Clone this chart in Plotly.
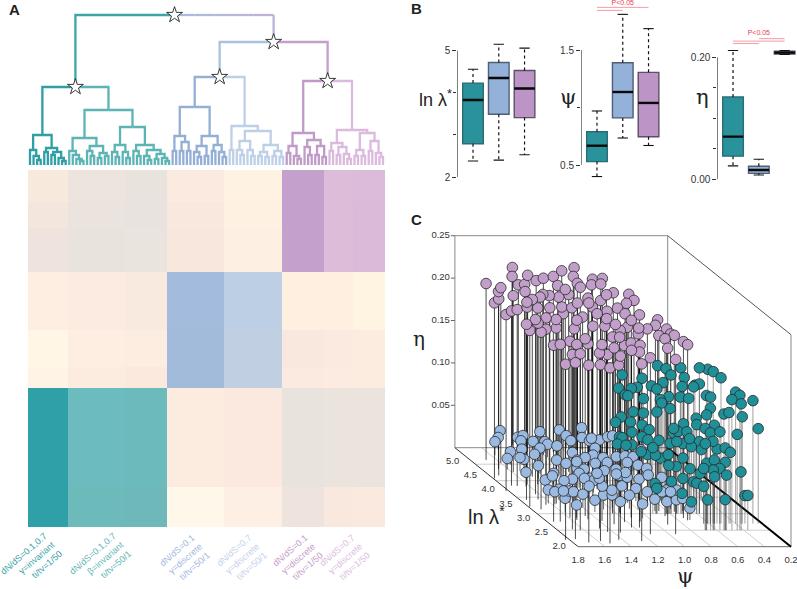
import plotly.graph_objects as go

W, H = 797, 589

# ---------- Panel A data ----------
heat_x_edges = [28, 68, 125, 167, 224, 282, 324, 353, 385]
heat_y_edges = [170, 202, 228, 272, 330, 367, 388, 487, 527]
heat_colors = [
    ["#f8e9dd", "#ece4dd", "#e9e3dd", "#fbeadf", "#fef2e3", "#c3a1cc", "#dcbcd9", "#dbbbd9"],
    ["#f3e6dc", "#ebe4de", "#e8e3de", "#f9e8de", "#fef1e2", "#c3a1cc", "#dcbcd9", "#dabad9"],
    ["#efe4dd", "#e9e3de", "#e9e4de", "#f8e7dd", "#fdf0e2", "#c3a1cc", "#dcbcd9", "#dabad8"],
    ["#fdeee1", "#fbebe0", "#f9eadf", "#a3bbdc", "#bccfe5", "#feefe0", "#feefe0", "#fff3e2"],
    ["#fff6e6", "#fdeee1", "#fcede0", "#a3bbdb", "#c0cfe1", "#f9e8de", "#faeadf", "#fcecdf"],
    ["#fef3e4", "#fcebdf", "#fbe9de", "#a3bbdb", "#c0cfe1", "#faeadf", "#fbebe0", "#fcecdf"],
    ["#30a0a8", "#6cbbbe", "#6dbabd", "#fcebdf", "#fbe8de", "#e9e3de", "#ebe4dd", "#ede3de"],
    ["#30a0a8", "#6dbabb", "#6fb8b9", "#fff8ea", "#fdefe3", "#efe3dd", "#f8e8de", "#f9e9df"],
]
clade_teal_a = (30, (15, 0, (9, 0, (5, 0, 0))),
                (17, (13, 0, 0), (13, (10, 0, 0), (7, 0, (4, 0, 0)))))
clade_teal_b1 = (27, (14, 0, (10, 0, (6, 0, (4, 0, 0)))),
                 (19, (14, 0, (9, 0, 0)), (12, (7, 0, 0), (9, 0, 0))))
clade_teal_b2a = (20, (13, 0, (8, 0, 0)), (13, 0, (7, 0, 0)))
clade_teal_b2b = (20, (14, 0, (9, 0, 0)),
                  (15, (9, 0, (5, 0, 0)), (11, (6, 0, 0), (7, 0, (4, 0, 0)))))
clade_blue_a1 = (29, (14, 0, 0), (23, (14, 0, 0), (14, 0, 0)))
clade_blue_a2 = (29, (19, (13, 0, (8, 0, 0)), (9, 0, 0)), (20, (14, 0, 0), (13, 0, (8, 0, 0))))
clade_blue_b = (39, (15, 0, 0), (34, (24, (15, 0, (10, 0, 0)), (15, 0, (9, 0, 0))),
                                 (20, (13, (9, 0, 0), (8, 0, 0)), (14, (9, 0, 0), (8, 0, 0)))))
clade_purple_a = (32, (19, (12, 0, 0), (9, 0, (6, 0, 0))),
                  (25, (18, 0, (10, 0, 0)), (19, (10, 0, 0), (8, 0, 0))))
clade_purple_b = (35, (22, (14, 0, 0), (18, (10, 0, 0), (11, 0, (6, 0, 0)))),
                  (32, (15, (9, 0, 0), (9, 0, 0)), (24, (14, 0, 0), (12, 0, (8, 0, 0)))))
height_root, height_right = 150, 123
height_teal, height_teal_b, height_teal_b2 = 78, 55, 38
height_blue, height_blue_a = 88, 58
height_purple = 84
block_labels = [
    "dN/dS=0.1,0.7<br>γ=invariant<br>ti/tv=1/50",
    "dN/dS=0.1,0.7<br>β=invariant<br>ti/tv=50/1",
    "dN/dS=0.1<br>γ=discrete<br>ti/tv=50/1",
    "dN/dS=0.7<br>γ=discrete<br>ti/tv=50/1",
    "dN/dS=0.1<br>γ=discrete<br>ti/tv=1/50",
    "dN/dS=0.7<br>γ=discrete<br>ti/tv=1/50",
]

# ---------- Panel B data: teal, blue, purple ----------
box_lnl = dict(lo=[2.38, 2.40, 2.53], q1=[2.79, 3.49, 3.41], med=[3.83, 4.35, 4.10],
               q3=[4.23, 4.72, 4.53], hi=[4.56, 5.15, 5.06])
box_psi = dict(lo=[0.40, 0.735, 0.67], q1=[0.53, 0.91, 0.746], med=[0.668, 1.135, 1.04],
               q3=[0.79, 1.39, 1.306], hi=[0.97, 1.81, 1.686])
box_eta = dict(lo=[0.022, 0.007, 0.2045], q1=[0.038, 0.0098, 0.2055], med=[0.070, 0.0153, 0.2077],
               q3=[0.135, 0.0213, 0.2098], hi=[0.211, 0.033, 0.2110])

# ---------- Panel C data ----------
purple_psi = [1.68,1.79,1.73,1.67,1.60,1.82,1.73,1.59,1.34,1.41,1.45,1.69,1.39,1.47,1.29,1.26,1.20,1.10,1.00,0.87,
 0.95,1.16,1.00,0.99,0.84,0.75,0.90,0.83,0.81,0.70,0.71,0.81,0.93,0.91,0.82,0.73,0.79,0.90,0.75,0.75,
 0.75,0.86,0.86,0.74,0.73,0.92,0.95,1.14,1.27,1.02,1.11,1.09,1.00,0.94,1.03,1.17,1.10,1.26,1.45,1.59,
 1.56,1.75,1.70,1.68,1.63,1.83,1.75,1.68,1.58,1.53,1.43,1.35,1.44,1.47,1.32,1.38,1.47,1.46,1.22,1.13,
 1.10,1.16,1.22,1.23,1.17,0.95,1.26,1.34,1.39,1.56,1.49,1.55,1.65,1.73,1.66,1.63,1.79,1.75,1.60,1.52,
 1.42,1.33,1.27,1.16,1.05,0.97,0.88,1.17,1.26,1.31,1.34,1.40,1.49,1.54,1.14,1.09,1.12,1.11]
purple_lnl = [4.63,4.07,4.16,4.36,4.53,3.69,3.85,4.26,5.09,4.87,4.59,3.84,4.63,4.36,4.88,4.77,4.79,4.87,4.99,5.11,
 4.87,4.57,4.61,4.57,4.76,4.81,4.59,4.59,4.35,4.33,4.17,4.03,3.86,3.74,3.68,3.53,3.39,3.23,3.25,3.15,
 3.06,3.08,2.93,2.87,2.80,2.67,2.38,2.38,2.17,3.33,3.21,3.39,3.13,3.49,3.79,3.39,3.92,3.64,3.23,2.88,
 2.81,2.76,2.76,2.53,2.50,2.21,2.23,2.13,2.17,2.10,2.21,2.43,2.45,2.55,2.68,2.78,2.83,2.93,2.75,2.88,
 2.76,2.58,2.58,3.01,3.03,3.28,3.39,3.52,3.69,3.31,3.54,3.59,3.27,3.13,3.43,3.59,3.21,3.42,3.89,3.89,
 3.92,3.92,3.87,4.09,4.19,4.14,4.29,4.27,4.22,4.29,4.35,4.22,4.12,4.09,4.45,4.04,3.74,3.54]
purple_eta = [0.208,0.207,0.208,0.209,0.207,0.208,0.206,0.208,0.209,0.207,0.208,0.208,0.207,0.209,0.208,0.206,0.208,0.207,0.209,0.208,
 0.207,0.208,0.209,0.206,0.208,0.207,0.208,0.209,0.208,0.207,0.206,0.208,0.209,0.207,0.208,0.208,0.207,0.209,0.208,0.206,
 0.208,0.207,0.209,0.208,0.207,0.208,0.206,0.208,0.209,0.207,0.208,0.208,0.207,0.209,0.208,0.206,0.208,0.207,0.209,0.208,
 0.207,0.208,0.209,0.206,0.208,0.207,0.208,0.209,0.208,0.207,0.206,0.208,0.209,0.207,0.208,0.208,0.207,0.209,0.208,0.206,
 0.208,0.207,0.209,0.208,0.207,0.208,0.206,0.208,0.209,0.207,0.208,0.208,0.207,0.209,0.208,0.206,0.208,0.207,0.209,0.208,
 0.207,0.208,0.209,0.206,0.208,0.207,0.208,0.209,0.208,0.207,0.206,0.208,0.209,0.207,0.208,0.208,0.207,0.209]

blue_psi = [1.42,1.49,1.57,1.35,1.31,1.35,1.13,1.28,1.17,1.19,1.30,1.43,1.50,1.53,1.54,1.61,1.39,1.46,1.63,0.96,
 0.97,0.99,0.78,0.86,1.15,1.08,1.10,0.85,0.76,0.66,0.63,0.87,0.82,0.95,0.89,1.04,1.27,1.40,1.23,1.21,
 1.14,1.01,0.92,0.79,0.71,0.68,0.54,0.77,0.69,0.67,0.90,1.02,1.19,1.24,1.33,1.40,1.55,1.45,1.51,1.62,
 1.58,1.58,1.46,1.44,1.40,1.54,1.35,1.26,1.18,1.03,1.12,1.17,1.18,1.24,1.27,0.96,0.90,0.82,0.73,0.94,
 0.87,1.06,1.18,1.05,0.89,0.83,0.75,0.68,0.71,0.74,0.65,0.65,0.76,0.71,0.86,0.96,1.12,1.15,1.09,1.50]
blue_lnl = [5.13,4.95,4.77,4.93,4.93,4.85,5.10,4.78,4.85,4.72,4.55,4.57,4.29,4.29,4.49,4.34,4.39,4.07,3.82,5.18,
 4.98,4.80,5.22,4.95,4.62,4.47,4.29,4.80,4.85,4.97,4.95,4.60,4.85,4.39,4.34,4.29,4.24,3.89,4.14,3.94,
 3.99,4.14,4.14,4.34,4.39,4.29,4.55,4.14,4.14,3.99,3.99,3.89,3.69,3.79,3.66,3.64,3.61,3.76,3.41,3.31,
 3.28,3.03,3.33,3.28,3.18,2.88,3.05,3.13,3.18,3.43,3.38,3.45,3.64,3.66,3.45,3.72,3.72,3.69,3.76,3.38,
 3.33,3.15,2.98,2.86,3.08,2.98,3.01,3.08,2.81,3.28,3.33,3.69,3.33,3.28,3.89,3.79,3.69,4.14,3.84,3.33]
blue_eta = [0.015,0.014,0.016,0.015,0.017,0.014,0.015,0.016,0.013,0.015,0.017,0.015,0.014,0.016,0.015,0.013,0.016,0.015,0.017,0.014,
 0.015,0.016,0.015,0.014,0.017,0.015,0.013,0.016,0.015,0.014,0.016,0.015,0.017,0.015,0.014,0.016,0.015,0.013,0.015,0.017,
 0.014,0.015,0.016,0.015,0.014,0.017,0.015,0.016,0.013,0.015,0.014,0.016,0.015,0.017,0.015,0.014,0.016,0.015,0.013,0.016,
 0.015,0.017,0.014,0.015,0.016,0.015,0.014,0.017,0.015,0.016,0.013,0.015,0.014,0.016,0.015,0.017,0.015,0.014,0.016,0.015,
 0.013,0.016,0.015,0.017,0.014,0.015,0.016,0.015,0.014,0.017,0.015,0.016,0.013,0.015,0.014,0.016,0.015,0.017,0.015,0.014]

teal_psi = [0.79,0.94,0.64,0.80,0.72,0.89,0.63,0.87,0.57,0.83,0.63,0.92,0.84,0.85,0.81,0.84,0.64,0.71,0.64,0.72,
 0.60,0.84,0.79,0.95,0.76,0.77,
 0.77,0.83,0.67,0.72,0.57,0.71,0.73,0.90,0.49,0.58,0.50,0.81,0.60,0.66,0.75,0.80,0.74,0.90,0.48,0.70,
 0.65,0.74,0.55,0.60,0.76,0.80,0.58,0.58,0.44,0.64,0.58,0.83,0.75,0.91,0.63,0.65,0.58,0.79,0.50,0.60,
 0.45,0.79,0.90,0.71,0.64,0.69,0.75,0.53,0.81,0.65,0.93,
 0.61,0.63,0.51,0.58,0.40,0.43,0.27,0.49,0.62,0.65,0.23,0.45,0.35,0.55,0.45,0.42,0.59,0.68,0.56,0.69,
 0.59,0.58,0.54,0.54,0.44,0.68,0.56,0.54,0.52,0.63,0.64,0.53,0.36,0.62,0.64,0.61,0.54,0.33,0.37,0.57,0.69]
teal_lnl = [4.2,3.8,4.2,3.8,4.2,3.8,4.2,3.8,4.2,3.8,4.2,3.8,4.2,3.8,4.2,3.8,4.2,3.8,4.2,3.8,
 4.2,3.8,4.2,3.8,4.2,3.8,
 3.4,3.0,3.4,3.0,3.4,3.0,3.4,3.0,3.4,3.0,3.4,3.0,3.4,3.0,3.4,3.0,3.4,3.0,3.4,3.0,
 3.4,3.0,3.4,3.0,3.4,3.0,3.4,3.0,3.4,3.0,3.4,3.0,3.4,3.0,3.4,3.0,3.4,3.0,3.4,3.0,
 3.4,3.4,3.0,3.0,3.0,3.4,3.0,3.4,3.0,3.4,3.0,
 2.7,2.5,2.7,3.0,2.7,2.5,2.7,2.5,2.7,2.5,2.7,2.5,2.7,2.5,2.7,2.5,2.7,2.5,2.7,2.5,
 2.7,2.5,2.7,2.5,2.7,2.5,2.7,2.5,2.7,2.5,2.7,2.5,2.7,2.5,2.7,2.7,2.5,2.7,2.5,2.7,2.5]
teal_eta = [0.117,0.117,0.113,0.118,0.101,0.109,0.089,0.108,0.104,0.089,0.072,0.083,0.061,0.077,0.044,0.065,0.058,0.068,0.044,0.056,
 0.023,0.050,0.043,0.051,0.034,0.042,
 0.159,0.171,0.148,0.172,0.145,0.150,0.139,0.147,0.136,0.153,0.134,0.138,0.122,0.136,0.119,0.124,0.115,0.120,0.097,0.106,
 0.079,0.097,0.081,0.105,0.071,0.083,0.067,0.085,0.060,0.079,0.050,0.067,0.050,0.069,0.040,0.053,0.026,0.038,0.022,0.036,
 0.032,0.020,0.030,0.024,0.014,0.054,0.085,0.073,0.057,0.085,0.078,
 0.182,0.187,0.172,0.172,0.155,0.159,0.145,0.154,0.151,0.157,0.112,0.113,0.126,0.137,0.131,0.149,0.136,0.136,0.116,0.120,
 0.107,0.116,0.088,0.097,0.084,0.079,0.075,0.080,0.065,0.071,0.065,0.065,0.061,0.063,0.044,0.028,0.036,0.033,0.041,0.097,0.102]

psi_ticks = [1.8, 1.6, 1.4, 1.2, 1.0, 0.8, 0.6, 0.4, 0.2]
lnl_ticks = [5.0, 4.5, 4.0, 3.5, 3.0, 2.5, 2.0]
eta_ticks = [0.05, 0.10, 0.15, 0.20, 0.25]

# ---------- helpers ----------
fig = go.Figure()
layout_axes = {}
annotations = []

def setup_axes(n, x_px, y_px, xr, yr, yaxis_extra=None):
    xa = dict(domain=[x_px[0] / W, x_px[1] / W], range=xr, visible=False, anchor=f"y{n}", fixedrange=True)
    ya = dict(domain=[1 - y_px[1] / H, 1 - y_px[0] / H], range=yr, visible=False, anchor=f"x{n}", fixedrange=True)
    if yaxis_extra:
        ya.update(yaxis_extra)
    layout_axes[f"xaxis{n}"] = xa
    layout_axes[f"yaxis{n}"] = ya

def text(x_px, y_px, s, size, color="#222222", family="Liberation Sans", angle=0, **kw):
    annotations.append(dict(x=x_px / W, y=1 - y_px / H, xref="paper", yref="paper", text=s, showarrow=False,
                            font=dict(size=size, color=color, family=family), textangle=angle,
                            xanchor="center", yanchor="middle", **kw))

def line(n, xs, ys, color, width, dash=None):
    fig.add_trace(go.Scatter(x=xs, y=ys, mode="lines", xaxis=f"x{n}", yaxis=f"y{n}", cliponaxis=False,
                             line=dict(color=color, width=width, dash=dash), hoverinfo="skip", showlegend=False))

# ---------- Panel A heatmap ----------
palette = sorted({c for row in heat_colors for c in row})
heat_z = [[palette.index(c) for c in row] for row in heat_colors]
scale = [[i / (len(palette) - 1), c] for i, c in enumerate(palette)]
setup_axes(1, (28, 385), (170, 527), [28, 385], [527, 170])
fig.add_trace(go.Heatmap(x=heat_x_edges, y=heat_y_edges, z=heat_z, colorscale=scale, zmin=0, zmax=len(palette) - 1,
                         showscale=False, xaxis="x1", yaxis="y1", hoverinfo="skip"))

# ---------- Panel A dendrogram ----------
LEAVES = 100
x0_px, x1_px = 30.0, 383.0
step = (x1_px - x0_px) / (LEAVES - 1)
setup_axes(2, (20, 395), (0, 170), [(20 - x0_px) / step, (395 - x0_px) / step], [-5, 165])
leaf_counter = [0]
segments = {}

def seg(color, xs, ys):
    segments.setdefault(color, ([], []))
    segments[color][0].extend(xs + [None])
    segments[color][1].extend(ys + [None])

def draw(node, color):
    if node == 0:
        i = leaf_counter[0]
        leaf_counter[0] += 1
        return i, 0
    h, a, b = node
    xa, ha = draw(a, color)
    xb, hb = draw(b, color)
    seg(color, [xa, xa, xb, xb], [ha, h, h, hb])
    return (xa + xb) / 2, h

def join(h, left, right, cl, cr):
    xa, ha = left
    xb, hb = right
    xm = (xa + xb) / 2
    seg(cl, [xa, xa, xm], [ha, h, h])
    seg(cr, [xm, xb, xb], [h, h, hb])
    return xm, h

ta = draw(clade_teal_a, "#2f9ea5")
b1 = draw(clade_teal_b1, "#5db4b5")
b2a = draw(clade_teal_b2a, "#5db4b5")
b2b = draw(clade_teal_b2b, "#5db4b5")
b2 = join(height_teal_b2, b2a, b2b, "#5db4b5", "#5db4b5")
tb = join(height_teal_b, b1, b2, "#5db4b5", "#5db4b5")
teal_node = join(height_teal, ta, tb, "#2f9ea5", "#5db4b5")
ba1 = draw(clade_blue_a1, "#93afd6")
ba2 = draw(clade_blue_a2, "#93afd6")
ba = join(height_blue_a, ba1, ba2, "#93afd6", "#93afd6")
bb = draw(clade_blue_b, "#bdd0e8")
blue_node = join(height_blue, ba, bb, "#93afd6", "#bdd0e8")
pa = draw(clade_purple_a, "#c09bc9")
pb = draw(clade_purple_b, "#dcbade")
purple_node = join(height_purple, pa, pb, "#c09bc9", "#dcbade")
right_node = join(height_right, blue_node, purple_node, "#a9c2e2", "#c39fc9")
xroot = (teal_node[0] + right_node[0]) / 2
seg("#3da5a8", [teal_node[0], teal_node[0], xroot], [teal_node[1], height_root, height_root])
grad = ["#a9bce0", "#aebade", "#b4b8dc", "#bab5da", "#bfb2d8"]
for k, col in enumerate(grad):
    xa_ = xroot + (right_node[0] - xroot) * k / 5
    xb_ = xroot + (right_node[0] - xroot) * (k + 1) / 5
    seg(col, [xa_, xb_], [height_root, height_root])
seg("#bcb4da", [right_node[0], right_node[0]], [height_root, right_node[1]])
for col, (xs, ys) in segments.items():
    line(2, xs, ys, col, 2.3)
stars = [(xroot, height_root), right_node, blue_node, purple_node, teal_node]
fig.add_trace(go.Scatter(x=[s[0] for s in stars], y=[s[1] for s in stars], mode="markers", xaxis="x2", yaxis="y2",
                         marker=dict(symbol="star", size=12, color="white", line=dict(color="#222222", width=0.9)),
                         hoverinfo="skip", showlegend=False, cliponaxis=False))

label_cols = ["#3aa2a8", "#5fb5b5", "#a3b8de", "#c3d2ea", "#c69ccb", "#dcbde0"]
label_pos = [(31, 562), (100, 562), (184, 559), (241, 559), (297, 559), (344, 559)]
for s, c, p in zip(block_labels, label_cols, label_pos):
    text(p[0], p[1], s, 9, color=c, angle=-41, align="right")

# ---------- Panel B ----------
fills = ["#2a929b", "#94b1da", "#bd94c6"]
edges = ["#2c6d75", "#4f5f74", "#5c4f66"]

def boxes(n, d, x_px, y_px, xr, yr, major, minor, axis_lo, axis_hi, labels):
    setup_axes(n, x_px, y_px, xr, yr, dict(visible=True, showline=False, showgrid=False, zeroline=False, ticks="outside",
               ticklen=4, tickwidth=1, tickcolor="#333333", tickvals=major, ticktext=labels, side="left",
               minor=dict(tickvals=minor, ticks="outside", ticklen=3, tickwidth=1, tickcolor="#333333"),
               tickfont=dict(size=10, color="#333333", family="Liberation Sans"), showticklabels=True))
    line(n, [xr[0], xr[0]], [axis_lo, axis_hi], "#333333", 1.2)
    for i in range(3):
        x = i + 1
        line(n, [x, x, None, x, x], [d["q3"][i], d["hi"][i], None, d["q1"][i], d["lo"][i]], "#111111", 1.2, "3px,3px")
        line(n, [x - 0.2, x + 0.2, None, x - 0.2, x + 0.2],
             [d["hi"][i], d["hi"][i], None, d["lo"][i], d["lo"][i]], "#111111", 1.1)
        fig.add_trace(go.Box(x=[x], q1=[d["q1"][i]], median=[d["med"][i]], q3=[d["q3"][i]], lowerfence=[d["q1"][i]],
                             upperfence=[d["q3"][i]], width=0.8, fillcolor=fills[i], line=dict(color=edges[i], width=1.4),
                             xaxis=f"x{n}", yaxis=f"y{n}", hoverinfo="skip", showlegend=False, boxpoints=False))
        line(n, [x - 0.4, x + 0.4], [d["med"][i], d["med"][i]], "#0a0a0a", 2.4)

boxes(3, box_lnl, (457.3, 540), (30, 195), [0.39, 3.6], [1.573, 5.49], [2, 5], [3, 4], 2, 5, ["2", "5"])
boxes(4, box_psi, (581, 664), (0, 190), [0.38, 3.6], [0.283, 1.935], [0.5, 1.5], [1.0], 0.5, 1.5, ["0.5", "1.5"])
boxes(5, box_eta, (717.3, 797), (20, 195), [0.39, 3.48], [-0.0257, 0.2611], [0, 0.20], [0.05, 0.10, 0.15], 0, 0.20,
      ["0.00", "0.20"])

def brackets(n, spans, tx, ty):
    for xa_, xb_, y in spans:
        line(n, [xa_, xb_], [y, y], "#f2909a", 0.9)
    fig.add_trace(go.Scatter(x=[tx], y=[ty], mode="text", text=["P<0.05"], xaxis=f"x{n}", yaxis=f"y{n}", cliponaxis=False,
                             textfont=dict(size=7, color="#e8404f", family="Liberation Sans"),
                             hoverinfo="skip", showlegend=False))

brackets(4, [(1, 3, 1.871), (1, 2, 1.845)], 2, 1.909)
brackets(5, [(2, 3, 0.2305), (1, 3, 0.2265), (1, 2, 0.2225)], 2, 0.2393)

text(435, 98, "ln λ<sup>*</sup>", 18)
text(568, 97, "ψ", 21, family="DejaVu Serif")
text(702, 97, "η", 21, family="DejaVu Serif")

# ---------- Panel C ----------
def proj(psi, lnl, eta):
    return -(psi - 0.2) * 133.0 - (lnl - 2.0) * 41.1, (lnl - 2.0) * 33.0 + eta * 848.0

setup_axes(6, (420, 797), (225, 589), [420 - 791, 797 - 791], [546.7 - 589, 546.7 - 225])

def pline(p, q, color, width):
    a, b = proj(*p), proj(*q)
    line(6, [a[0], b[0]], [a[1], b[1]], color, width)

for v in psi_ticks[1:-1]:
    pline((v, 2, 0), (v, 5, 0), "#c4c4c4", 0.8)
for v in lnl_ticks[1:-1]:
    pline((1.8, v, 0), (0.2, v, 0), "#c4c4c4", 0.8)
pline((1.8, 5, 0), (1.8, 5, 0.25), "#8a8a8a", 1)
pline((0.2, 5, 0), (0.2, 5, 0.25), "#8a8a8a", 1)
pline((1.8, 5, 0.25), (0.2, 5, 0.25), "#8a8a8a", 1)
pline((1.8, 5, 0), (0.2, 5, 0), "#8a8a8a", 1)
pline((0.2, 5, 0.25), (0.2, 2, 0.25), "#555555", 1)
pline((0.2, 2, 0.25), (0.2, 2, 0), "#8a8a8a", 1)
pline((1.8, 2, 0), (0.2, 2, 0), "#666666", 1)
pline((1.8, 5, 0), (1.8, 2, 0), "#333333", 1)
pline((0.2, 5, 0), (0.2, 2, 0), "#000000", 2)

for v in eta_ticks:
    a = proj(1.8, 5, v)
    line(6, [a[0] - 4, a[0]], [a[1], a[1]], "#555555", 0.9)

def stems(psi, lnl, eta, color, width):
    xs, ys = [], []
    for p, l, e in zip(psi, lnl, eta):
        a, b = proj(p, l, e), proj(p, l, 0)
        xs += [a[0], b[0], None]
        ys += [a[1], b[1], None]
    line(6, xs, ys, color, width)

stems(purple_psi, purple_lnl, purple_eta, "rgba(0,0,0,0.7)", 1.0)
stems(teal_psi, teal_lnl, teal_eta, "rgba(60,60,60,0.6)", 0.8)
stems(blue_psi, blue_lnl, blue_eta, "rgba(0,0,0,0.65)", 0.9)

def dots(psi, lnl, eta, color):
    pts = [proj(p, l, e) for p, l, e in zip(psi, lnl, eta)]
    fig.add_trace(go.Scatter(x=[q[0] for q in pts], y=[q[1] for q in pts], mode="markers", xaxis="x6", yaxis="y6",
                             marker=dict(size=10.6, color=color, line=dict(color="#2a2a2a", width=0.8)),
                             hoverinfo="skip", showlegend=False, cliponaxis=False))

dots(blue_psi, blue_lnl, blue_eta, "#9bbae2")
dots(teal_psi, teal_lnl, teal_eta, "#1f8f98")
dots(purple_psi, purple_lnl, purple_eta, "#c29fca")

tick_font = dict(size=9.5, color="#333333", family="Liberation Sans")
etx = [proj(1.8, 5, v)[0] - 5 for v in eta_ticks]
ety = [proj(1.8, 5, v)[1] for v in eta_ticks]
fig.add_trace(go.Scatter(x=etx, y=ety, mode="text", text=[f"{v:.2f}" for v in eta_ticks], textposition="middle left",
                         textfont=tick_font, xaxis="x6", yaxis="y6", cliponaxis=False, hoverinfo="skip", showlegend=False))
psx = [proj(v, 2, 0)[0] for v in psi_ticks]
psy = [proj(v, 2, 0)[1] - 14.3 for v in psi_ticks]
fig.add_trace(go.Scatter(x=psx, y=psy, mode="text", text=[f"{v:.1f}" for v in psi_ticks], textposition="middle center",
                         textfont=tick_font, xaxis="x6", yaxis="y6", cliponaxis=False, hoverinfo="skip", showlegend=False))
ltx = [proj(1.8, v, 0)[0] - 2.3 - (5 - v) * (41.1 - 35.5) for v in lnl_ticks]
lty = [proj(1.8, v, 0)[1] - 14 + (5 - v) * (33 - 28.3) for v in lnl_ticks]
fig.add_trace(go.Scatter(x=ltx, y=lty, mode="text", text=[f"{v:.1f}" for v in lnl_ticks], textposition="middle center",
                         textfont=tick_font, xaxis="x6", yaxis="y6", cliponaxis=False, hoverinfo="skip", showlegend=False))

text(486, 515, "ln λ<sup>*</sup>", 20)
text(685, 576, "ψ", 21, family="DejaVu Serif")
text(419, 339, "η", 20, family="DejaVu Serif")

# ---------- Panel letters ----------
text(14, 9, "<b>A</b>", 15, color="#222222")
text(416, 8, "<b>B</b>", 15, color="#222222")
text(416, 219, "<b>C</b>", 15, color="#222222")

fig.update_layout(width=W, height=H, margin=dict(l=0, r=0, t=0, b=0), paper_bgcolor="white", plot_bgcolor="rgba(0,0,0,0)",
                  showlegend=False, annotations=annotations, **layout_axes)
fig.write_html("out.html", config=dict(displayModeBar=False),
               post_script="document.body.style.margin='0';")
